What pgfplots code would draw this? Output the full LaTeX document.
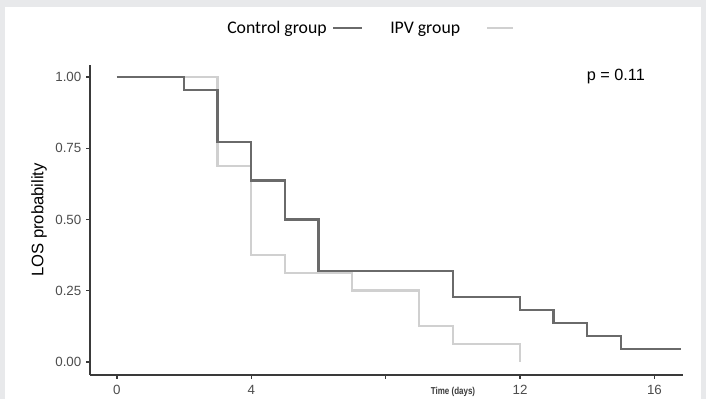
\documentclass[border=0pt]{standalone}
\usepackage{pgfplots}
\pgfplotsset{compat=1.18}
\usepackage{fontspec}
\setmainfont{Liberation Sans}
\newfontfamily\carlito{Carlito}
\definecolor{frame}{HTML}{E8E9EB}
\definecolor{ctrl}{HTML}{6A6A6A}
\definecolor{ipv}{HTML}{D0D0D0}
\definecolor{axc}{HTML}{3A3A3A}
\definecolor{tickc}{HTML}{4D4D4D}
\begin{document}
\begin{tikzpicture}
\begin{scope}[x=0.75pt,y=0.75pt]
\fill[frame] (0,0) rectangle (706,399);
\fill[white] (5,0) rectangle (701,392);
\end{scope}
\begin{axis}[
  at={(67.5pt,18pt)}, anchor=south west,
  scale only axis, width=444.75pt, height=232.5pt,
  xmin=-0.8, xmax=16.85, ymin=-0.046, ymax=1.042,
  axis x line*=bottom, axis y line*=left,
  axis line style={-, draw=axc, line width=1.3pt},
  tick align=outside, major tick length=3pt,
  tick style={draw=axc, line width=1pt},
  xtick={0,4,8,12,16}, xticklabels={0,4,,12,16},
  ytick={0,0.25,0.5,0.75,1}, yticklabels={0.00,0.25,0.50,0.75,1.00},
  ticklabel style={font=\fontsize{10}{12}\selectfont, text=tickc},
  xticklabel style={yshift=-1pt},
  ylabel={LOS probability},
  every axis y label/.style={at={(rel axis cs:0,0.5)}, rotate=90, anchor=center, yshift=38.25pt, font=\fontsize{12.5}{14}\selectfont, text=black},
  clip=false,
]
\addplot[const plot, ipv, line width=1.8pt] coordinates {
 (0,1) (3,0.6875) (4,0.375) (5,0.3125) (7,0.25) (9,0.125) (10,0.0625) (12,0)
};
\addplot[const plot, ctrl, line width=1.8pt] coordinates {
 (0,1) (2,0.9545) (3,0.7727) (4,0.6364) (5,0.5) (6,0.3182) (10,0.2273) (12,0.1818) (13,0.1364) (14,0.0909) (15,0.0455) (16.8,0.0455)
};
\node[font=\fontsize{12.2}{14}\selectfont] at (axis cs:14.85,1.0) {p = 0.11};
\end{axis}
\begin{scope}[x=0.75pt,y=0.75pt]
\node[font=\carlito\fontsize{13.3}{15}\selectfont, anchor=base west, inner sep=0pt] at (227,365) {Control group};
\draw[ctrl, line width=1.8pt] (333,371) -- (362,371);
\node[font=\carlito\fontsize{13.3}{15}\selectfont, anchor=base west, inner sep=0pt] at (390,365) {IPV group};
\draw[ipv, line width=1.8pt] (487,371) -- (513,371);
\node[font=\bfseries\fontsize{7.5}{8}\selectfont, xscale=0.8, text=axc] at (453,7) {Time (days)};
\end{scope}
\end{tikzpicture}
\end{document}
